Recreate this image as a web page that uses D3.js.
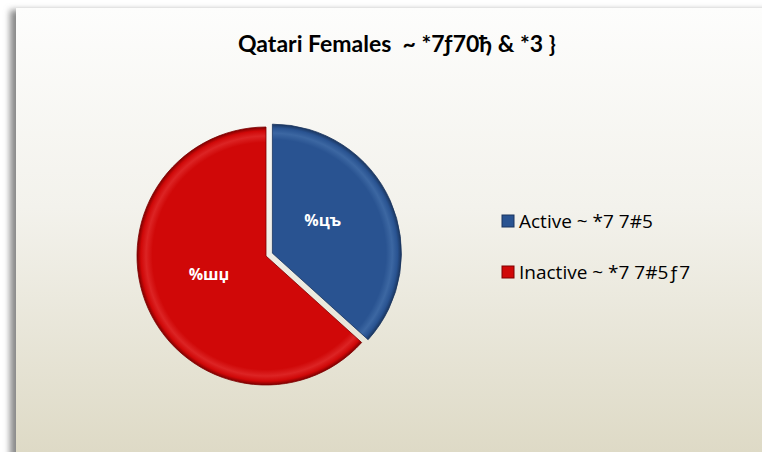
<!DOCTYPE html>
<html lang="en">
<head>
  <script src="https://d3js.org/d3.v7.min.js"></script>
  <style>
    body { margin: 0; background: #fff; }
  </style>
</head>
<body>
<script>
  // data
  const categories = ["Active", "Inactive"];
  const values = [36.7, 63.3];
  const sliceLabels = ["%цъ", "%шџ"];
  const legendLabels = ["Active ~ *7 7#5", "Inactive ~ *7 7#5ƒ7"];
  const titleText = "Qatari Females  ~ *7ƒ70ђ & *3 }";

  const colors = ["#295391", "#d00808"];
  const darkColors = ["#1a355e", "#7e0000"];
  const lightColors = ["#3c67a2", "#dc2424"];

  const width = 762, height = 452;
  const cx = 266, cy = 256, radius = 129;

  const svg = d3.select("body").append("svg")
    .attr("width", width)
    .attr("height", height);

  const defs = svg.append("defs");

  const bg = defs.append("linearGradient")
    .attr("id", "bg").attr("x1", 0).attr("y1", 0).attr("x2", 0).attr("y2", 1);
  bg.append("stop").attr("offset", "0%").attr("stop-color", "#fdfdfc");
  bg.append("stop").attr("offset", "45%").attr("stop-color", "#f3f2ec");
  bg.append("stop").attr("offset", "100%").attr("stop-color", "#dedac6");

  const blur = defs.append("filter").attr("id", "blur")
    .attr("x", "-10%").attr("y", "-10%").attr("width", "120%").attr("height", "120%");
  blur.append("feGaussianBlur").attr("stdDeviation", 3);

  colors.forEach(function(c, i) {
    const g = defs.append("radialGradient")
      .attr("id", "slice" + i)
      .attr("gradientUnits", "userSpaceOnUse")
      .attr("cx", 0).attr("cy", 0).attr("r", radius);
    g.append("stop").attr("offset", "0%").attr("stop-color", c);
    g.append("stop").attr("offset", "88%").attr("stop-color", c);
    g.append("stop").attr("offset", "93%").attr("stop-color", lightColors[i]);
    g.append("stop").attr("offset", "97%").attr("stop-color", c);
    g.append("stop").attr("offset", "100%").attr("stop-color", darkColors[i]);
  });

  // plot area with a soft shadow on the left
  svg.append("rect")
    .attr("x", 10).attr("y", 10).attr("width", width).attr("height", height)
    .attr("fill", "#8a8a8a")
    .attr("filter", "url(#blur)");
  svg.append("rect")
    .attr("x", 16).attr("y", 8).attr("width", width - 16).attr("height", height - 8)
    .attr("fill", "url(#bg)");

  svg.append("text")
    .attr("x", 238).attr("y", 52)
    .attr("font-family", "Lato, 'Open Sans', sans-serif")
    .attr("font-weight", "bold")
    .attr("font-size", "23px")
    .attr("fill", "#000")
    .attr("xml:space", "preserve")
    .text(titleText);

  const pie = d3.pie().sort(null).value(function(d) { return d; });
  const arcs = pie(values);
  const arc = d3.arc().innerRadius(0).outerRadius(radius);
  const labelArc = d3.arc().innerRadius(60).outerRadius(60);
  const explode = [7, 0];
  const labelTurn = [-0.16, 0.1];

  const slices = svg.selectAll("g.slice")
    .data(arcs)
    .enter()
    .append("g")
    .attr("class", "slice")
    .attr("transform", function(d, i) {
      const a = (d.startAngle + d.endAngle) / 2;
      const dx = Math.sin(a) * explode[i];
      const dy = -Math.cos(a) * explode[i];
      return "translate(" + (cx + dx) + "," + (cy + dy) + ")";
    });

  slices.append("path")
    .attr("d", arc)
    .attr("fill", function(d, i) { return "url(#slice" + i + ")"; })
    .attr("stroke", function(d, i) { return darkColors[i]; })
    .attr("stroke-width", 0.8);

  slices.append("text")
    .attr("transform", function(d, i) {
      const a = (d.startAngle + d.endAngle) / 2 + labelTurn[i];
      const c = labelArc.centroid({ startAngle: a, endAngle: a });
      return "translate(" + c[0] + "," + c[1] + ")";
    })
    .attr("text-anchor", "middle")
    .attr("dy", "0.35em")
    .attr("font-family", "'Open Sans', sans-serif")
    .attr("font-weight", "bold")
    .attr("font-size", "16px")
    .attr("fill", "#fff")
    .text(function(d, i) { return sliceLabels[i]; });

  const legend = svg.selectAll("g.legend")
    .data(categories)
    .enter()
    .append("g")
    .attr("class", "legend")
    .attr("transform", function(d, i) {
      return "translate(502," + (215 + i * 51) + ")";
    });

  legend.append("rect")
    .attr("width", 12).attr("height", 12)
    .attr("fill", function(d, i) { return colors[i]; })
    .attr("stroke", function(d, i) { return darkColors[i]; })
    .attr("stroke-width", 1);

  legend.append("text")
    .attr("x", 17).attr("y", 12.5)
    .attr("font-family", "'Open Sans', sans-serif")
    .attr("font-size", "19px")
    .attr("fill", "#000")
    .text(function(d, i) { return legendLabels[i]; });
</script>
</body>
</html>
